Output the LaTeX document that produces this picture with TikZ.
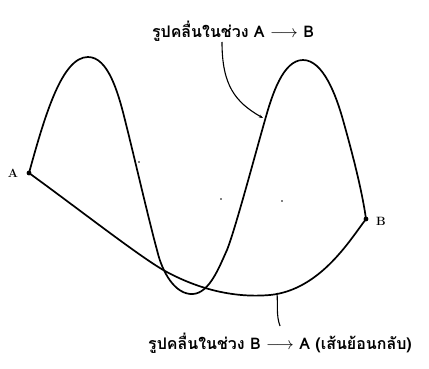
\documentclass[tikz,border=0pt]{standalone}
\usepackage{fontspec}
\newfontfamily\thaifont[Script=Thai]{Loma}
\usepackage{tikz}
\usetikzlibrary{arrows.meta}

\begin{document}
\begin{tikzpicture}[
  x=1pt, y=-1pt,
  wave/.style={line width=1.7pt, line cap=round, line join=round},
  leader/.style={line width=1.1pt},
  endpt/.style={circle, fill, inner sep=1.7pt},
  caption/.style={font=\thaifont\fontsize{16}{18}\selectfont\bfseries, inner sep=0pt},
  ptlabel/.style={font=\fontsize{12}{14}\selectfont\bfseries, inner sep=0pt},
  speck/.style={circle, fill, inner sep=0.6pt},
]
\useasboundingbox (0,0) rectangle (429,369);

% End points
\node[endpt] (a) at (29,173) {};
\node[endpt] (b) at (366,219) {};
\node[ptlabel] (alab) at (13,173) {A};
\node[ptlabel] (blab) at (381,221) {B};

% Waveform A -> B
\draw[wave] (a.center) .. controls (45,115) and (62,57) .. (88,57)
  .. controls (108,57) and (118,92) .. (125,120)
  .. controls (135,160) and (150,225) .. (157,250)
  .. controls (162,272) and (175,295) .. (193,294)
  .. controls (210,293) and (220,265) .. (227,250)
  .. controls (235,230) and (255,155) .. (265,120)
  .. controls (272,95) and (283,60) .. (303,60)
  .. controls (323,60) and (336,95) .. (343,120)
  .. controls (352,152) and (362,190) .. (b.center);

% Waveform B -> A (return)
\draw[wave] (b.center) .. controls (350,240) and (320,290) .. (270,295)
  .. controls (235,298) and (200,290) .. (165,271)
  .. controls (140,257) and (80,210) .. (a.center);

% Captions
\node[caption] (top) at (233,31) {รูปคลื่นในช่วง A $\longrightarrow$ B};
\node[caption] (bot) at (280,343) {รูปคลื่นในช่วง B $\longrightarrow$ A (เส้นย้อนกลับ)};
\coordinate (ontop) at (263,118);
\coordinate (onbot) at (277,293);
\draw[leader, -{Stealth[length=4pt, width=3pt]}] (222,42)
  .. controls (222,85) and (235,102) .. (ontop);
\draw[leader] (onbot) .. controls (278,305) and (276,315) .. (280,326);

% specks
\node[speck] (s1) at (139,162) {};
\node[speck] (s2) at (221,199) {};
\node[speck] (s3) at (282,201) {};
\end{tikzpicture}
\end{document}
